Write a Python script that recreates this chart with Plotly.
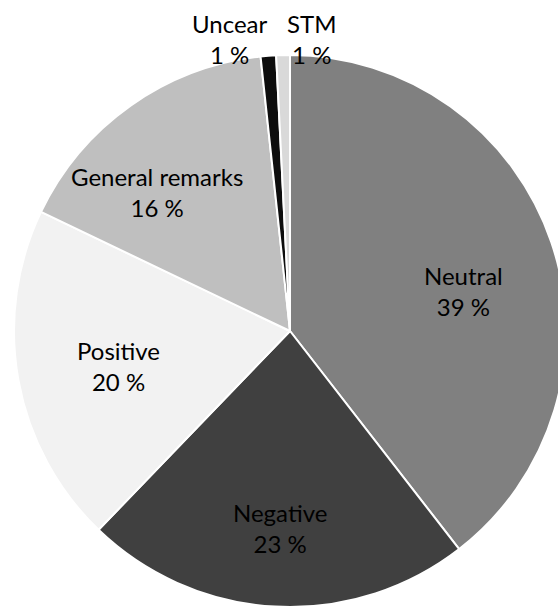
import plotly.graph_objects as go

categories = ["Neutral", "Negative", "Positive", "General remarks", "Uncear", "STM"]
values = [39.5, 22.7, 19.9, 16.2, 0.9, 0.8]
pct_labels = ["39 %", "23 %", "20 %", "16 %", "1 %", "1 %"]
colors = ["#808080", "#404040", "#f2f2f2", "#bfbfbf", "#0d0d0d", "#d9d9d9"]

# figure is a bit wider than the window so that the pie is clipped at the right, as in the original
W, H = 570, 607
cx, cy, r = 290, 331, 276

texts = [f"{c}<br>{p}" for c, p in zip(categories, pct_labels)]

fig = go.Figure(go.Pie(
    labels=categories,
    values=values,
    text=texts,
    textinfo="none",
    sort=False,
    direction="clockwise",
    rotation=0,
    marker=dict(colors=colors, line=dict(color="white", width=2)),
    showlegend=False,
    hovertext=texts,
    hoverinfo="text",
    domain=dict(x=[(cx - r) / W, min(1, (cx + r) / W)],
                y=[max(0, (H - cy - r) / H), min(1, (H - cy + r) / H)]),
))

# data label placement (pixel centres of each label block)
label_pos = [(463, 291), (280, 528), (118, 366), (157, 192), (230, 39), (311, 39)]
for txt, (px, py) in zip(texts, label_pos):
    fig.add_annotation(x=px / W, y=1 - py / H, xref="paper", yref="paper",
                       xanchor="center", yanchor="middle",
                       text=txt, showarrow=False,
                       font=dict(family="Lato", size=24, color="black"))

fig.update_layout(
    width=W, height=H,
    margin=dict(l=0, r=0, t=0, b=0),
    paper_bgcolor="white",
    plot_bgcolor="white",
)

fig.write_html(
    "out.html",
    config={"displayModeBar": False},
    post_script="document.body.style.margin='0';document.body.style.overflow='hidden';",
)
